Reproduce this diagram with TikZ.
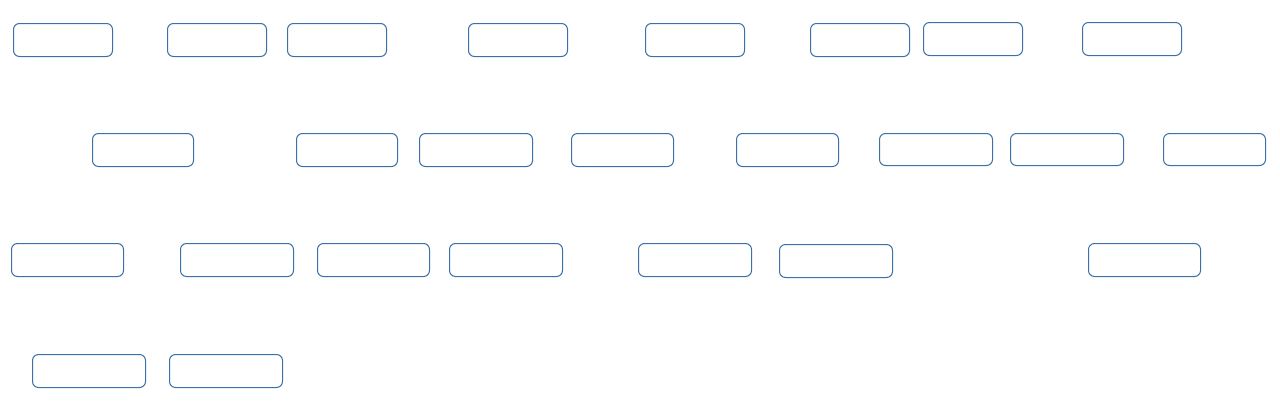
\documentclass[tikz,border=0pt]{standalone}
\begin{document}
\begin{tikzpicture}[x=1pt,y=-1pt,
  box/.style={draw=boxblue, line width=1pt, rounded corners=6pt, inner sep=0pt, anchor=north west},
]
\definecolor{boxblue}{HTML}{3C70A8}
\useasboundingbox[fill=white] (0,0) rectangle (1280,402);
% helper: box from x1,y1 with width w, height h
\newcommand{\mybox}[5]{\node[box, minimum width=#4pt, minimum height=#5pt] (#1) at (#2,#3) {};}
% row 1
\mybox{a1}{13}{23}{99}{33}
\mybox{a2}{167}{23}{99}{33}
\mybox{a3}{287}{23}{99}{33}
\mybox{a4}{468}{23}{99}{33}
\mybox{a5}{645}{23}{99}{33}
\mybox{a6}{810}{23}{99}{33}
\mybox{a7}{923}{22}{99}{33}
\mybox{a8}{1082}{22}{99}{33}
% row 2
\mybox{b1}{92}{133}{101}{33}
\mybox{b2}{296}{133}{101}{33}
\mybox{b3}{419}{133}{113}{33}
\mybox{b4}{571}{133}{102}{33}
\mybox{b5}{736}{133}{102}{33}
\mybox{b6}{879}{133}{113}{32}
\mybox{b7}{1010}{133}{113}{32}
\mybox{b8}{1163}{133}{102}{32}
% row 3
\mybox{c1}{11}{243}{112}{33}
\mybox{c2}{180}{243}{113}{33}
\mybox{c3}{317}{243}{112}{33}
\mybox{c4}{449}{243}{113}{33}
\mybox{c5}{638}{243}{113}{33}
\mybox{c6}{779}{244}{113}{33}
\mybox{c7}{1088}{243}{112}{33}
% row 4
\mybox{d1}{32}{354}{113}{33}
\mybox{d2}{169}{354}{113}{33}
\end{tikzpicture}
\end{document}
